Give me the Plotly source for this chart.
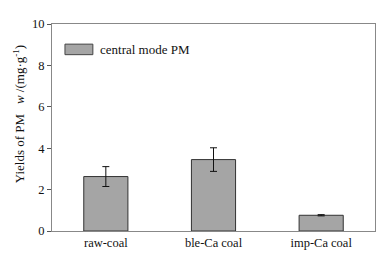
import plotly.graph_objects as go

categories = ["raw-coal", "ble-Ca coal", "imp-Ca coal"]
values = [2.63, 3.45, 0.76]
errors = [0.48, 0.57, 0.03]
y_ticks = [0, 2, 4, 6, 8, 10]
legend_label = "central mode PM"

FONT = "Liberation Serif, Times New Roman, serif"

fig = go.Figure()
fig.add_trace(go.Bar(
    x=categories, y=values,
    marker=dict(color="#a5a5a5", line=dict(color="#333333", width=1)),
    error_y=dict(type="data", array=errors, color="#111111", thickness=1, width=3.5),
    showlegend=False,
))

# page body has an 8px margin; compensate so plot area lands at x 52-368, y 21-229
OFF = 8
W, H = 385 - OFF, 259 - OFF
L, R, T, B = 52 - OFF, 17 - OFF, 21 - OFF, 30 - OFF
pw, ph = W - L - R, H - T - B

def px(x):
    return (x - OFF - L) / pw

def py(y):
    return (H - B - (y - OFF)) / ph

# legend swatch + label
fig.add_shape(type="rect", xref="paper", yref="paper",
              x0=px(65), x1=px(93), y0=py(53), y1=py(42),
              fillcolor="#a5a5a5", line=dict(color="#444444", width=1))
fig.add_annotation(xref="paper", yref="paper", x=px(98), y=py(47.5),
                   text=legend_label, showarrow=False, xanchor="left", yanchor="middle",
                   font=dict(family=FONT, size=13, color="#111111"))

# y-axis title
fig.add_annotation(xref="paper", yref="paper", x=px(19), y=py(115),
                   text="Yields of PM   <i>w</i> /(mg·g<sup>-1</sup>)", textangle=-90,
                   showarrow=False, xanchor="center", yanchor="middle",
                   font=dict(family=FONT, size=13, color="#111111"))

fig.update_layout(
    width=W, height=H,
    margin=dict(l=L, r=R, t=T, b=B, pad=0),
    paper_bgcolor="white", plot_bgcolor="white",
    bargap=0.59,
    font=dict(family=FONT, size=12.5, color="#111111"),
    xaxis=dict(showline=True, linecolor="#888888", linewidth=1, mirror=True,
               ticks="", showgrid=False, tickfont=dict(size=12.5)),
    yaxis=dict(range=[0, 10], tickvals=y_ticks, showline=True, linecolor="#888888",
               linewidth=1, mirror=True, ticks="outside", ticklen=4, tickcolor="#555555",
               showgrid=False, zeroline=False, tickfont=dict(size=12.5)),
)

fig.write_html("out.html")
